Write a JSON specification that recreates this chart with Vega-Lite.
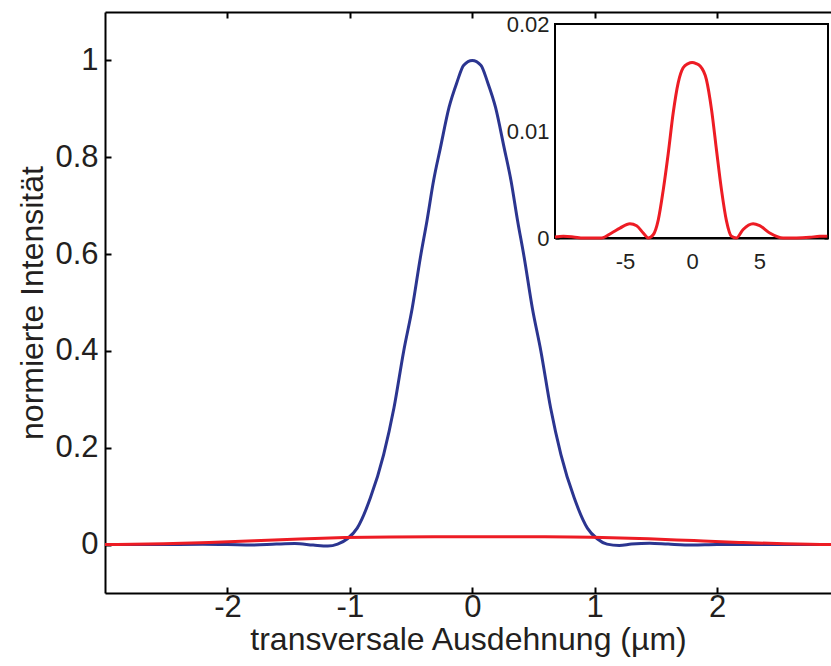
{
  "$schema": "https://vega.github.io/schema/vega-lite/v6.json",
  "width": 726,
  "height": 581,
  "autosize": {"type": "none"},
  "padding": {"left": 105, "top": 12, "right": 0, "bottom": 73},
  "background": "white",
  "config": {
    "view": {"stroke": null},
    "font": "Liberation Sans",
    "axis": {
      "grid": false,
      "domainColor": "black",
      "domainWidth": 2,
      "tickColor": "black",
      "tickWidth": 2,
      "labelColor": "#231f20",
      "titleColor": "#231f20",
      "labelFont": "Liberation Sans",
      "titleFont": "Liberation Sans",
      "titleFontWeight": "normal"
    }
  },
  "datasets": {
    "blue": [
      {"x": -3, "y": 0}, {"x": -2.6, "y": 0}, {"x": -2.2, "y": 0.0005}, {"x": -2.0, "y": 0},
      {"x": -1.8, "y": -0.001}, {"x": -1.6, "y": 0.001}, {"x": -1.45, "y": 0.002}, {"x": -1.3, "y": -0.001},
      {"x": -1.18, "y": -0.003}, {"x": -1.1, "y": 0.001}, {"x": -1.02, "y": 0.012}, {"x": -0.94, "y": 0.034},
      {"x": -0.833, "y": 0.096}, {"x": -0.724, "y": 0.186}, {"x": -0.64, "y": 0.282}, {"x": -0.56, "y": 0.4},
      {"x": -0.49, "y": 0.489}, {"x": -0.424, "y": 0.593}, {"x": -0.37, "y": 0.669}, {"x": -0.316, "y": 0.752},
      {"x": -0.26, "y": 0.82}, {"x": -0.19, "y": 0.903}, {"x": -0.125, "y": 0.955}, {"x": -0.07, "y": 0.99},
      {"x": 0, "y": 1},
      {"x": 0.07, "y": 0.99}, {"x": 0.125, "y": 0.955}, {"x": 0.19, "y": 0.903}, {"x": 0.26, "y": 0.82},
      {"x": 0.316, "y": 0.752}, {"x": 0.37, "y": 0.669}, {"x": 0.424, "y": 0.593}, {"x": 0.49, "y": 0.489},
      {"x": 0.56, "y": 0.4}, {"x": 0.64, "y": 0.282}, {"x": 0.724, "y": 0.186}, {"x": 0.833, "y": 0.096},
      {"x": 0.94, "y": 0.034}, {"x": 1.02, "y": 0.012}, {"x": 1.1, "y": 0.001}, {"x": 1.2, "y": -0.002},
      {"x": 1.3, "y": 0.001}, {"x": 1.45, "y": 0.003}, {"x": 1.6, "y": 0.001}, {"x": 1.8, "y": -0.001},
      {"x": 2.0, "y": 0}, {"x": 2.4, "y": 0}, {"x": 2.93, "y": 0}
    ],
    "red": [
      {"x": -10.2, "y": 0.0001}, {"x": -9.58, "y": 0.00016}, {"x": -8.84, "y": 0.0001}, {"x": -8.09, "y": 0},
      {"x": -6.73, "y": 0}, {"x": -5.99, "y": 0.00047}, {"x": -5.37, "y": 0.00093}, {"x": -4.63, "y": 0.00134},
      {"x": -4.13, "y": 0.00115}, {"x": -3.64, "y": 0.00047}, {"x": -3.27, "y": 0}, {"x": -2.9, "y": 0.0003},
      {"x": -2.52, "y": 0.0017}, {"x": -2.15, "y": 0.0045}, {"x": -1.78, "y": 0.0079}, {"x": -1.41, "y": 0.0117},
      {"x": -1.04, "y": 0.0145}, {"x": -0.67, "y": 0.0159}, {"x": -0.3, "y": 0.0163}, {"x": 0, "y": 0.0164},
      {"x": 0.3, "y": 0.0163}, {"x": 0.57, "y": 0.0161}, {"x": 1.06, "y": 0.0148}, {"x": 1.44, "y": 0.012},
      {"x": 1.81, "y": 0.0082}, {"x": 2.18, "y": 0.0045}, {"x": 2.55, "y": 0.0016}, {"x": 2.92, "y": 0.00016},
      {"x": 3.29, "y": 0}, {"x": 3.79, "y": 0.0008}, {"x": 4.53, "y": 0.00134}, {"x": 5.02, "y": 0.00115},
      {"x": 5.77, "y": 0.00047}, {"x": 6.76, "y": 0}, {"x": 7.75, "y": 0}, {"x": 8.74, "y": 0.00006},
      {"x": 9.48, "y": 0.00016}, {"x": 10.05, "y": 0.00016}
    ]
  },
  "layer": [
    {
      "data": {"name": "blue"},
      "mark": {"type": "line", "color": "#2b3590", "strokeWidth": 3, "clip": true, "interpolate": "monotone"},
      "encoding": {
        "x": {
          "field": "x", "type": "quantitative",
          "scale": {"domain": [-3, 2.93], "nice": false, "zero": false},
          "axis": {
            "orient": "bottom", "values": [-2, -1, 0, 1, 2], "tickSize": -6, "labelPadding": 5,
            "labelFontSize": 31, "title": "transversale Ausdehnung (µm)", "titleFontSize": 32,
            "titlePadding": 2, "labelExpr": "datum.value + ''"
          }
        },
        "y": {
          "field": "y", "type": "quantitative",
          "scale": {"domain": [-0.1, 1.1], "nice": false, "zero": false},
          "axis": {
            "orient": "left", "values": [0, 0.2, 0.4, 0.6, 0.8, 1], "tickSize": -6, "labelPadding": 13,
            "labelFontSize": 31, "title": "normierte Intensität", "titleFontSize": 32,
            "titlePadding": 5, "labelExpr": "datum.value + ''"
          }
        }
      }
    },
    {
      "data": {"name": "red"},
      "mark": {"type": "line", "color": "#ed1c24", "strokeWidth": 3, "clip": true, "interpolate": "monotone"},
      "encoding": {
        "x": {
          "field": "x", "type": "quantitative",
          "scale": {"domain": [-3, 2.93], "nice": false, "zero": false},
          "axis": {"orient": "top", "values": [-2, -1, 0, 1, 2], "tickSize": -6, "labels": false, "title": null}
        },
        "y": {
          "field": "y", "type": "quantitative",
          "scale": {"domain": [-0.1, 1.1], "nice": false, "zero": false},
          "axis": null
        }
      }
    },
    {
      "data": {"values": [{}]},
      "mark": {"type": "rect", "fill": "white", "stroke": "black", "strokeWidth": 2},
      "encoding": {
        "x": {
          "datum": -10.2, "type": "quantitative",
          "scale": {"domain": [-10.2, 10.1], "range": [450, 723], "nice": false, "zero": false},
          "axis": {"orient": "top", "offset": -12, "labels": false, "title": null, "tickSize": -4, "values": [-5, 0, 5], "domain": false}
        },
        "x2": {"datum": 10.1},
        "y": {
          "datum": 0, "type": "quantitative",
          "scale": {"domain": [0, 0.02], "range": [226, 12], "nice": false, "zero": false},
          "axis": {"orient": "right", "offset": -3, "labels": false, "title": null, "tickSize": -4, "values": [0, 0.005, 0.01, 0.015, 0.02], "domain": false}
        },
        "y2": {"datum": 0.02}
      }
    },
    {
      "data": {"name": "red"},
      "mark": {"type": "line", "color": "#ed1c24", "strokeWidth": 3, "interpolate": "monotone"},
      "encoding": {
        "x": {
          "field": "x", "type": "quantitative",
          "scale": {"domain": [-10.2, 10.1], "range": [450, 723], "nice": false, "zero": false},
          "axis": {
            "orient": "bottom", "offset": -355, "values": [-5, 0, 5], "tickSize": -4, "labelPadding": 17,
            "labelFontSize": 22, "title": null, "labelExpr": "datum.value + ''"
          }
        },
        "y": {
          "field": "y", "type": "quantitative",
          "scale": {"domain": [0, 0.02], "range": [226, 12], "nice": false, "zero": false},
          "axis": {
            "orient": "left", "offset": -450, "values": [0, 0.005, 0.01, 0.015, 0.02], "tickSize": -4,
            "labelPadding": 10, "labelFontSize": 22, "title": null,
            "labelExpr": "round(datum.value * 1000) % 10 == 0 ? datum.value + '' : ''"
          }
        }
      }
    }
  ],
  "resolve": {"scale": {"x": "independent", "y": "independent"}}
}
